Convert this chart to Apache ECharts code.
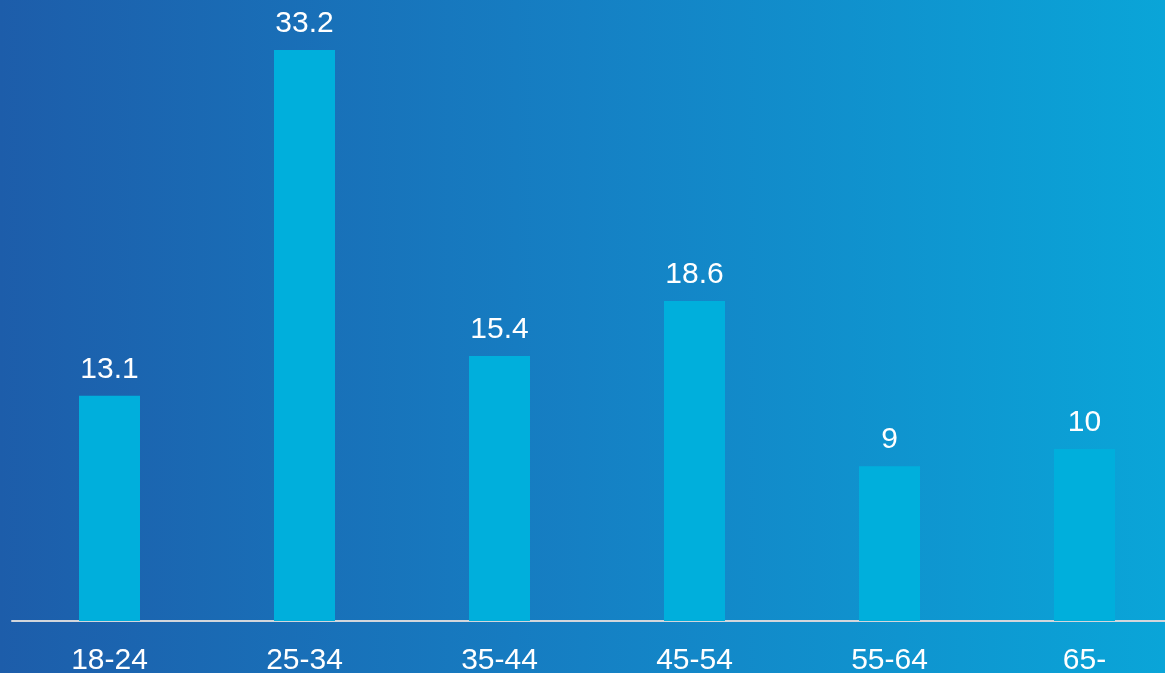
<!DOCTYPE html>
<html><head><meta charset="utf-8">
<script src="https://cdn.jsdelivr.net/npm/echarts@6/dist/echarts.min.js"></script>
<style>html,body{margin:0;padding:0;}#c{width:1165px;height:673px;}</style>
</head><body><div id="c"></div>
<script>
var categories = ['18-24', '25-34', '35-44', '45-54', '55-64', '65-'];
var values = [13.1, 33.2, 15.4, 18.6, 9, 10];

var chart = echarts.init(document.getElementById('c'));
chart.setOption({
  backgroundColor: new echarts.graphic.LinearGradient(0, 0, 1, 0, [
    { offset: 0, color: '#1d5daa' },
    { offset: 0.5, color: '#1580c4' },
    { offset: 1, color: '#0aa5d8' }
  ]),
  animation: false,
  grid: { left: 12, top: 19, right: -17, bottom: 52, containLabel: false, outerBoundsMode: 'none' },
  xAxis: {
    type: 'category',
    data: categories,
    axisLine: { show: true, lineStyle: { color: '#d2d6dc', width: 2 } },
    axisTick: { show: false },
    axisLabel: { color: '#ffffff', fontSize: 30, fontFamily: 'Liberation Sans, Arial, sans-serif', margin: 25 }
  },
  yAxis: {
    type: 'value', min: 0, max: 35,
    show: false,
    splitLine: { show: false }
  },
  series: [{
    type: 'bar',
    data: values,
    barWidth: 61,
    itemStyle: { color: '#00afdc' },
    label: {
      show: true, position: 'top', distance: 11,
      color: '#ffffff', fontSize: 30, fontFamily: 'Liberation Sans, Arial, sans-serif'
    }
  }]
});
</script></body></html>
